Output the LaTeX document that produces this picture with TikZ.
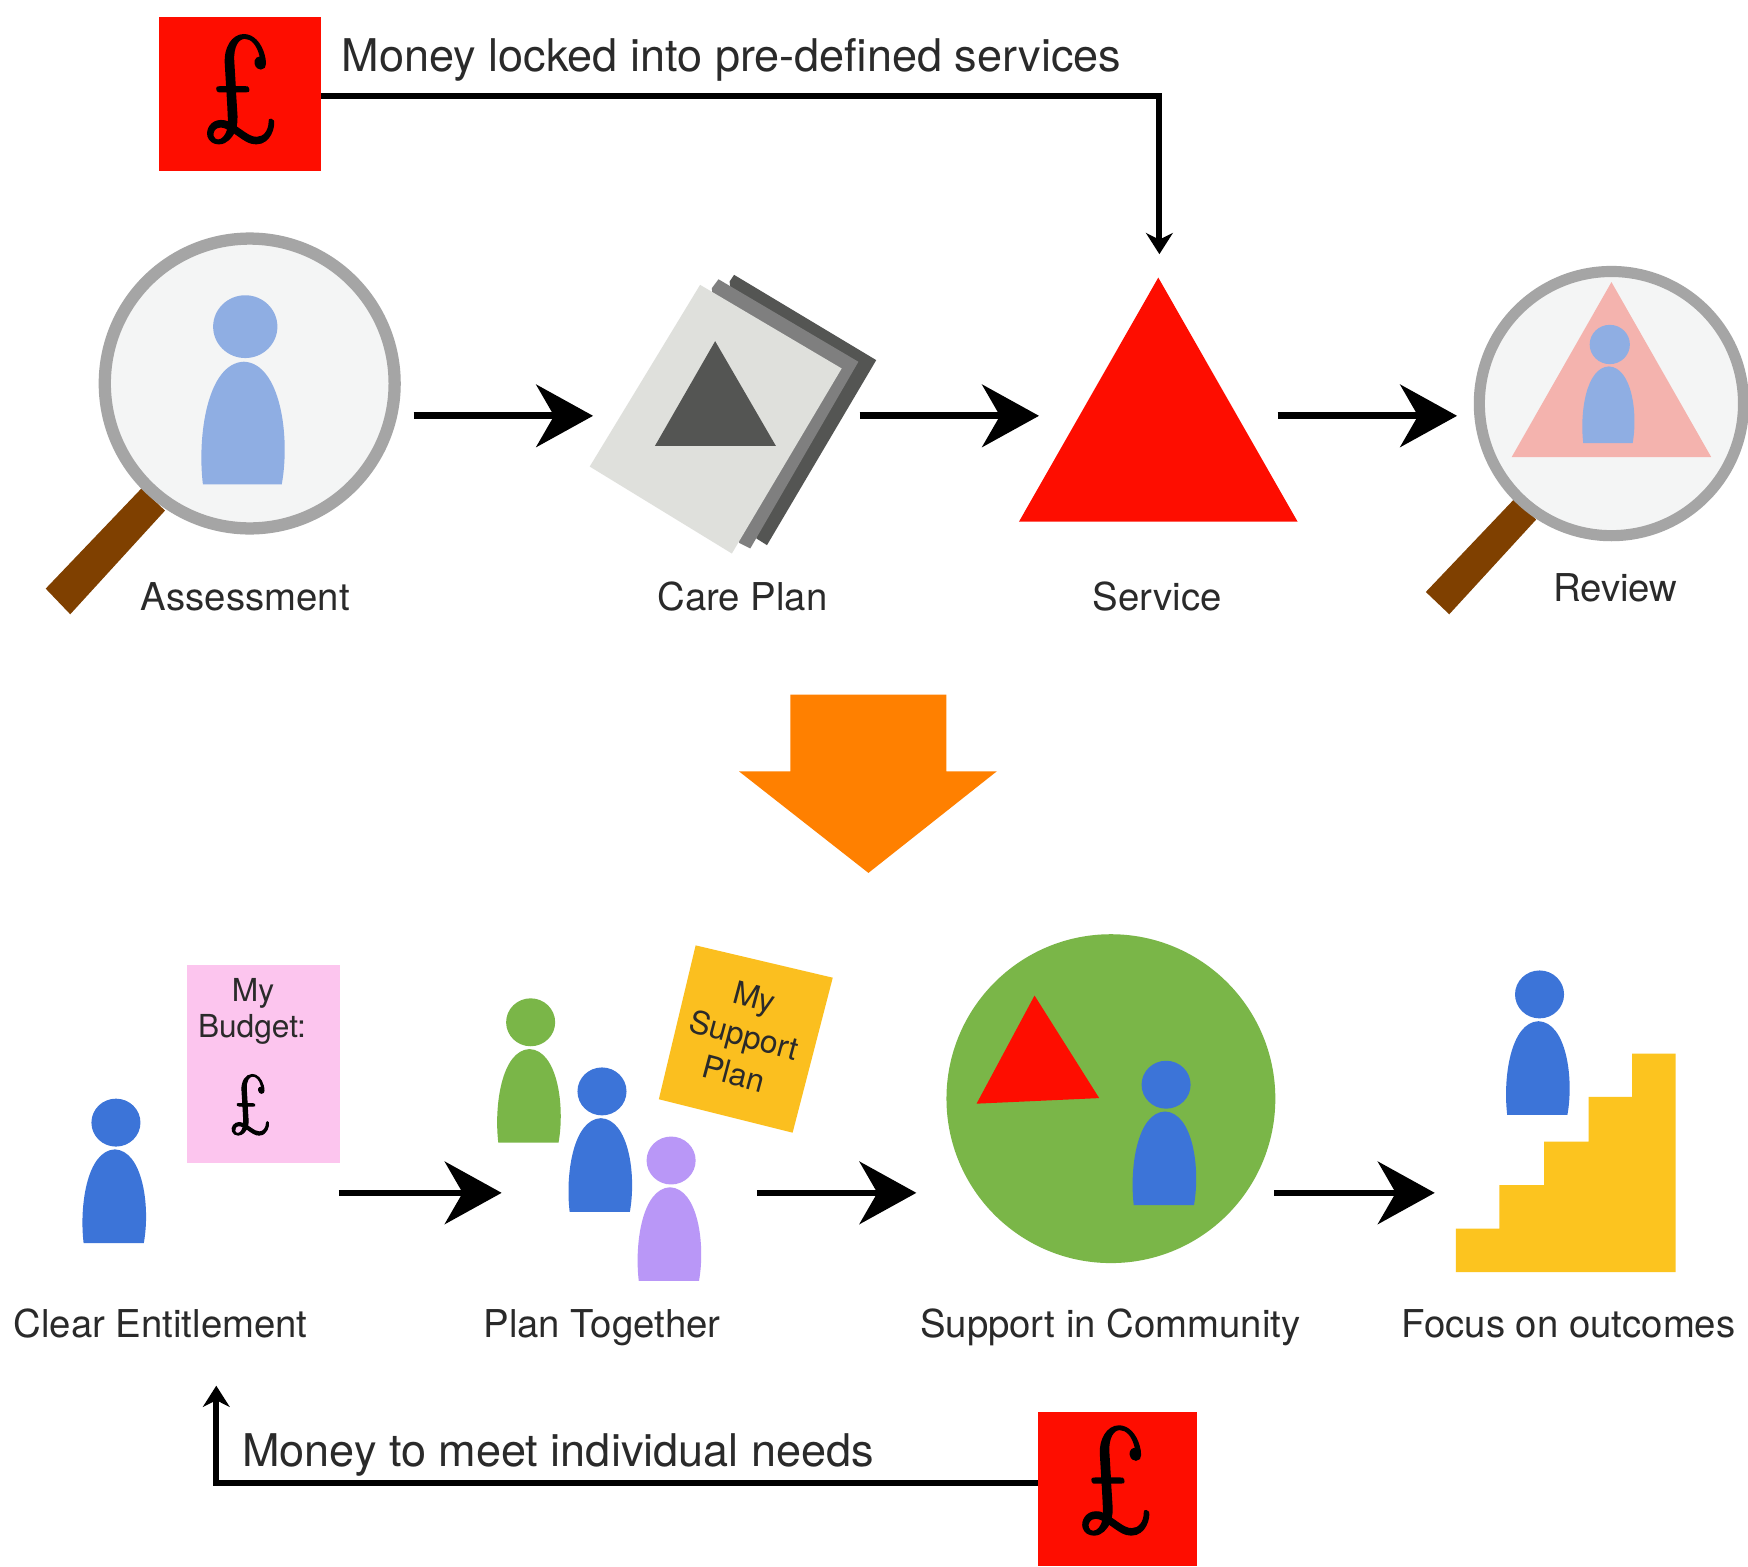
\documentclass[tikz,border=0pt]{standalone}
\usepackage{fontspec}
\setmainfont{TeX Gyre Heros}
\newfontfamily\poundfont[ItalicFeatures={FakeSlant=-0.27,FakeStretch=0.85,FakeBold=1.2}]{Latin Modern Roman}
\usetikzlibrary{arrows.meta}
\definecolor{moneyred}{HTML}{FE0D00}
\definecolor{lensgrey}{HTML}{A5A5A5}
\definecolor{lensfill}{HTML}{F4F5F5}
\definecolor{handlebrown}{HTML}{7F4000}
\definecolor{pageA}{HTML}{DFE0DC}
\definecolor{pageB}{HTML}{7F7F7F}
\definecolor{pageC}{HTML}{545553}
\definecolor{palered}{HTML}{F4B3AE}
\definecolor{paleblue}{HTML}{8FAEE3}
\definecolor{pblue}{HTML}{3C74D8}
\definecolor{pgreen}{HTML}{7AB648}
\definecolor{ppurple}{HTML}{B997F7}
\definecolor{bigorange}{HTML}{FF8000}
\definecolor{notepink}{HTML}{FCC5EE}
\definecolor{noteyellow}{HTML}{FBBF1F}
\definecolor{stairyellow}{HTML}{FCC41F}
\definecolor{labelink}{HTML}{2A2A2A}
\tikzset{
  hub/.style={inner sep=0pt,outer sep=0pt,minimum height=1pt,draw=none,fill=none},
  flow/.style={line width=3pt,-{Stealth[length=25.5pt,width=28pt,inset=8pt]}},
  moneyline/.style={line width=2.7pt,miter limit=10,-{Stealth[length=9.5pt,width=12pt,inset=3pt]}},
  lens/.style={circle,draw=lensgrey,fill=lensfill,inner sep=0pt,outer sep=0pt},
  moneybox/.style={fill=moneyred,inner sep=0pt,outer sep=0pt,minimum width=#1},
  caption/.style={anchor=base,inner sep=0pt,text=labelink,font=\fontsize{17.2}{20}\selectfont},
  moneytext/.style={anchor=base west,inner sep=0pt,text=labelink,font=\fontsize{20.2}{24}\selectfont},
  notetext/.style={inner sep=0pt,text=labelink,font=\fontsize{14.2}{17}\selectfont},
  pound/.style={inner sep=0pt,text=black,font=\poundfont\itshape\fontsize{#1}{#1}\selectfont},
  person/.pic={
    \fill[#1] (0,0) ellipse [x radius=22,y radius=21.5];
    \fill[#1] (-29,108) .. controls (-33,75) and (-26,25) .. (-1,24)
              .. controls (24,25) and (31,75) .. (25,108) -- cycle;
  }
}
\newcommand{\hubnode}[4]{\node[hub,minimum width={(#3-#2)*0.5pt}] (#1) at ({(#2+#3)/2},#4) {};}
\begin{document}
\begin{tikzpicture}[x=0.5pt,y=-0.5pt]
\useasboundingbox (0,0) rectangle (1568,1405);
\fill[white] (0,0) rectangle (1568,1405);

% invisible extents of the steps, whose sides take the arrows
\hubnode{assess}{89}{371}{373}
\hubnode{care}{532}{771}{373}
\hubnode{service}{932}{1146}{373}
\hubnode{review}{1307}{1568}{373}
\hubnode{entitle}{0}{304}{1070}
\hubnode{together}{450}{679}{1070}
\hubnode{community}{822}{1143}{1070}
\hubnode{outcomes}{1287}{1568}{1070}
\coordinate (servicetop) at (1040,228);
\coordinate (entitlebottom) at (194,1243);

% top money box
\node[moneybox=72.5pt,minimum height=69pt] (moneytop) at (215.5,84) {};
\node[pound=68] (pound1) at (222,80) {£};
\node[moneytext] (lockedtext) at (306,64.5) {Money locked into pre-defined services};
\draw[moneyline] ([yshift=-1.2pt]moneytop.east) -| (servicetop);

% assessment magnifier
\fill[handlebrown] (127,438) -- (148,458) -- (63,551) -- (41,528) -- cycle;
\node[lens,line width=5.5pt,minimum size=130pt] (lens1) at (224,344) {};
\pic at (220,293) [scale=1.31] {person=paleblue};
\node[caption] (assesslabel) at (220,547.5) {Assessment};

% care plan
\fill[pageC] (658.5,246.5) -- (786,323) -- (688,489) -- (678.5,483) -- (654.5,252.5) -- cycle;
\fill[pageB] (644.5,250.5) -- (770,324.5) -- (673,492) -- (663,487) -- (638.5,258.5) -- cycle;
\fill[pageA] (628,255.5) -- (755,330.5) -- (656.5,496.5) -- (529,418.5) -- cycle;
\fill[pageC] (641.5,306) -- (696,400) -- (587.5,400) -- cycle;
\node[caption] (carelabel) at (666,547.5) {Care Plan};

% service
\fill[moneyred] (1039,249) -- (1164,468) -- (914,468) -- cycle;
\node[caption] (servicelabel) at (1038,547.5) {Service};

% review magnifier
\fill[handlebrown] (1358,448) -- (1378,466) -- (1300,551) -- (1279,531) -- cycle;
\node[lens,line width=5pt,minimum size=118.5pt] (lens2) at (1445.5,362) {};
\fill[palered] (1445.5,253) -- (1535,410) -- (1356,410) -- cycle;
\pic at (1444,309) [scale=0.82] {person=paleblue};
\node[caption] (reviewlabel) at (1449,539.5) {Review};

\draw[flow] (assess.east) -- (care.west);
\draw[flow] (care.east) -- (service.west);
\draw[flow] (service.east) -- (review.west);

% big orange arrow
\fill[bigorange] (709,623) -- (849,623) -- (849,692) -- (894,692) -- (779,783) -- (663,692) -- (709,692) -- cycle;

% clear entitlement
\pic at (104,1007) {person=pblue};
\fill[notepink] (168,866) rectangle (305,1043);
\node[notetext,anchor=base] (budget1) at (227,898) {My};
\node[notetext,anchor=base] (budget2) at (226,931) {Budget:};
\node[pound=38] (pound3) at (228,991) {£};
\node[caption] (entitlelabel) at (144,1199.5) {Clear Entitlement};

% plan together
\pic at (476,917) {person=pgreen};
\pic at (540,979) {person=pblue};
\pic at (602,1041) {person=ppurple};
\fill[noteyellow] (624,848) -- (747,877) -- (711,1016) -- (591,986) -- cycle;
\node[notetext,rotate=-15] (support1) at (676,897) {My};
\node[notetext,rotate=-15] (support2) at (667,931) {Support};
\node[notetext,rotate=-15] (support3) at (658,963) {Plan};
\node[caption] (togetherlabel) at (540,1199.5) {Plan Together};

% community
\node[circle,fill=pgreen,inner sep=0pt,outer sep=0pt,minimum size=147.5pt] (commcircle) at (996.5,985.5) {};
\fill[moneyred] (928,893) -- (986,985) -- (876,990) -- cycle;
\pic at (1046,973) {person=pblue};
\node[caption] (communitylabel) at (996,1199.5) {Support in Community};

% outcomes
\pic at (1381,892) {person=pblue};
\fill[stairyellow] (1306,1141) -- (1503,1141) -- (1503,945) -- (1464,945) -- (1464,984) -- (1425,984) -- (1425,1024) -- (1385,1024) -- (1385,1063) -- (1345,1063) -- (1345,1102) -- (1306,1102) -- cycle;
\node[caption] (outcomeslabel) at (1407,1199.5) {Focus on outcomes};

\draw[flow] (entitle.east) -- (together.west);
\draw[flow] (together.east) -- (community.west);
\draw[flow] (community.east) -- (outcomes.west);

% bottom money box
\node[moneybox=71.5pt,minimum height=69pt] (moneybottom) at (1002.5,1336) {};
\node[pound=68] (pound2) at (1007,1328) {£};
\node[moneytext] (needstext) at (217,1315.5) {Money to meet individual needs};
\draw[moneyline] ([yshift=3pt]moneybottom.west) -| (entitlebottom);
\end{tikzpicture}
\end{document}
